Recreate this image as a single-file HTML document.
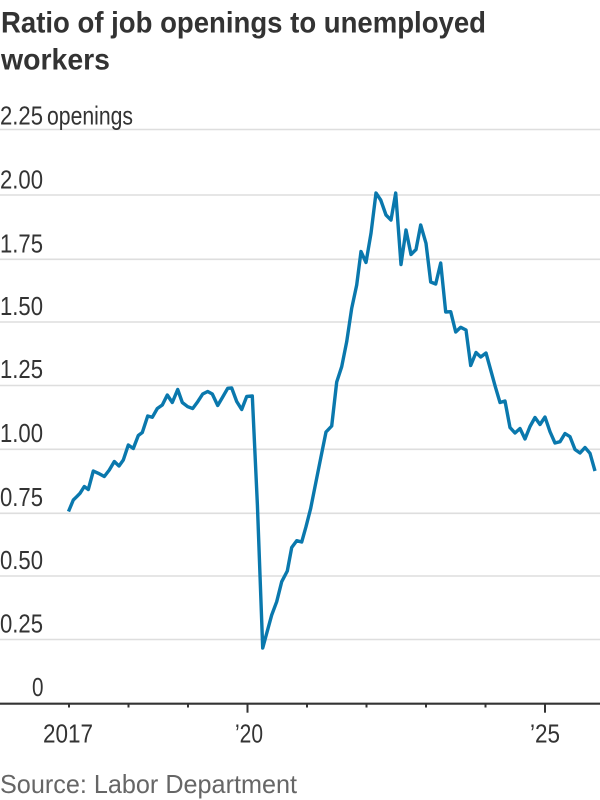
<!DOCTYPE html>
<html>
<head>
<meta charset="utf-8">
<style>
  html,body{margin:0;padding:0;background:#fff;}
  svg{display:block;}
  text{font-family:"Liberation Sans Narrow","Liberation Sans",sans-serif;}
</style>
</head>
<body>
<svg width="600" height="800" viewBox="0 0 600 800" xmlns="http://www.w3.org/2000/svg">
  <rect x="0" y="0" width="600" height="800" fill="#fff"/>

  <!-- Title -->
  <text x="1" y="32.5" font-size="29.5" font-weight="bold" fill="#333" textLength="485" lengthAdjust="spacingAndGlyphs">Ratio of job openings to unemployed</text>
  <text x="1" y="69.5" font-size="29.5" font-weight="bold" fill="#333" textLength="109" lengthAdjust="spacingAndGlyphs">workers</text>

  <!-- Gridlines -->
  <g stroke="#dedede" stroke-width="1.6">
    <line x1="0" y1="129.5" x2="600" y2="129.5"/>
    <line x1="0" y1="195" x2="600" y2="195"/>
    <line x1="0" y1="259.3" x2="600" y2="259.3"/>
    <line x1="0" y1="322" x2="600" y2="322"/>
    <line x1="0" y1="385.5" x2="600" y2="385.5"/>
    <line x1="0" y1="449.3" x2="600" y2="449.3"/>
    <line x1="0" y1="513.3" x2="600" y2="513.3"/>
    <line x1="0" y1="576" x2="600" y2="576"/>
    <line x1="0" y1="639.5" x2="600" y2="639.5"/>
  </g>

  <!-- Y labels -->
  <g font-size="26" fill="#333">
    <text x="0" y="124.5" textLength="43" lengthAdjust="spacingAndGlyphs">2.25</text>
    <text x="47" y="124.5" textLength="86" lengthAdjust="spacingAndGlyphs">openings</text>
    <text x="0" y="188.5" textLength="43" lengthAdjust="spacingAndGlyphs">2.00</text>
    <text x="0" y="252.3" textLength="43" lengthAdjust="spacingAndGlyphs">1.75</text>
    <text x="0" y="315" textLength="43" lengthAdjust="spacingAndGlyphs">1.50</text>
    <text x="0" y="378" textLength="43" lengthAdjust="spacingAndGlyphs">1.25</text>
    <text x="0" y="442" textLength="43" lengthAdjust="spacingAndGlyphs">1.00</text>
    <text x="0" y="506" textLength="43" lengthAdjust="spacingAndGlyphs">0.75</text>
    <text x="0" y="569" textLength="43" lengthAdjust="spacingAndGlyphs">0.50</text>
    <text x="0" y="632.5" textLength="43" lengthAdjust="spacingAndGlyphs">0.25</text>
    <text x="32" y="696" textLength="11.5" lengthAdjust="spacingAndGlyphs">0</text>
  </g>

  <!-- Data line -->
  <polyline fill="none" stroke="#0a78ad" stroke-width="3.4" stroke-linejoin="round" stroke-linecap="butt"
    points="68.5,511.5 73.3,500 76.7,496.7 80,493.3 84.3,486.5 88.3,489.5 93.3,471 98.3,473.3 104.3,476.5 109.3,470 114.3,461.5 119,466 123.3,460 128.3,445 133.3,448.5 138.3,435.5 142.3,432.5 147.7,416 152.3,417.3 157.3,408.5 162.3,405 167.3,395 172.3,402.5 177.7,389.5 182.3,402.5 187.7,406.7 192.7,408.5 197.7,401.7 202.7,394 207.7,391.5 212.3,394 217.7,405.5 222.7,397 227.7,388.3 231.7,388 236.7,401.5 241.7,409.5 246.7,396.5 252.3,396 257.4,505 262.7,648 266.7,633.3 271.7,615 276.7,601.7 281.7,581.7 287.3,571 291.7,547.5 296.7,540.7 301.7,542 306,526.7 310.7,508.3 315,486.7 320,461.7 326,432 331.7,426 336.7,382 341.7,366.7 346.7,341.7 351.7,308.3 356.7,285 361,251.5 366,262.5 371,233.3 376,193 380.7,200 386,215 391,220 395.7,193 401,264.5 406,230 411,254.5 416,249.5 420.7,225 426,243.3 430.7,282 435.7,284 440.7,263 445.7,312 450.7,311.7 455.7,332 460.7,327.3 466,330 470.7,365.5 476,352.5 480.7,357 486,353 490.7,370 495.3,386.7 500,402.5 505,401 510,427.5 515,433 520,428.5 525,439 530,426.5 535,417.5 540,424.5 545,417 550,431.7 555,443 560,441.7 565,433.5 570,436.7 575,449.5 580,453 585,447.5 590,453.3 595,471"/>

  <!-- Axis -->
  <line x1="0" y1="703.7" x2="600" y2="703.7" stroke="#333" stroke-width="2.2"/>
  <g stroke="#333" stroke-width="2">
    <line x1="69" y1="703.7" x2="69" y2="707.5"/>
    <line x1="128.5" y1="703.7" x2="128.5" y2="707.5"/>
    <line x1="188" y1="703.7" x2="188" y2="707.5"/>
    <line x1="247.5" y1="703.7" x2="247.5" y2="712.7"/>
    <line x1="307" y1="703.7" x2="307" y2="707.5"/>
    <line x1="366.5" y1="703.7" x2="366.5" y2="707.5"/>
    <line x1="426" y1="703.7" x2="426" y2="707.5"/>
    <line x1="485.5" y1="703.7" x2="485.5" y2="707.5"/>
    <line x1="545" y1="703.7" x2="545" y2="712.7"/>
  </g>

  <!-- X labels -->
  <g font-size="26" fill="#333" text-anchor="middle">
    <text x="68" y="742.5" textLength="50" lengthAdjust="spacingAndGlyphs">2017</text>
    <text x="249" y="742.5" textLength="28" lengthAdjust="spacingAndGlyphs">’20</text>
    <text x="545" y="742.5" textLength="30" lengthAdjust="spacingAndGlyphs">’25</text>
  </g>

  <!-- Source -->
  <text x="0" y="793" font-size="26" fill="#666" textLength="297" lengthAdjust="spacingAndGlyphs">Source: Labor Department</text>
</svg>
</body>
</html>
